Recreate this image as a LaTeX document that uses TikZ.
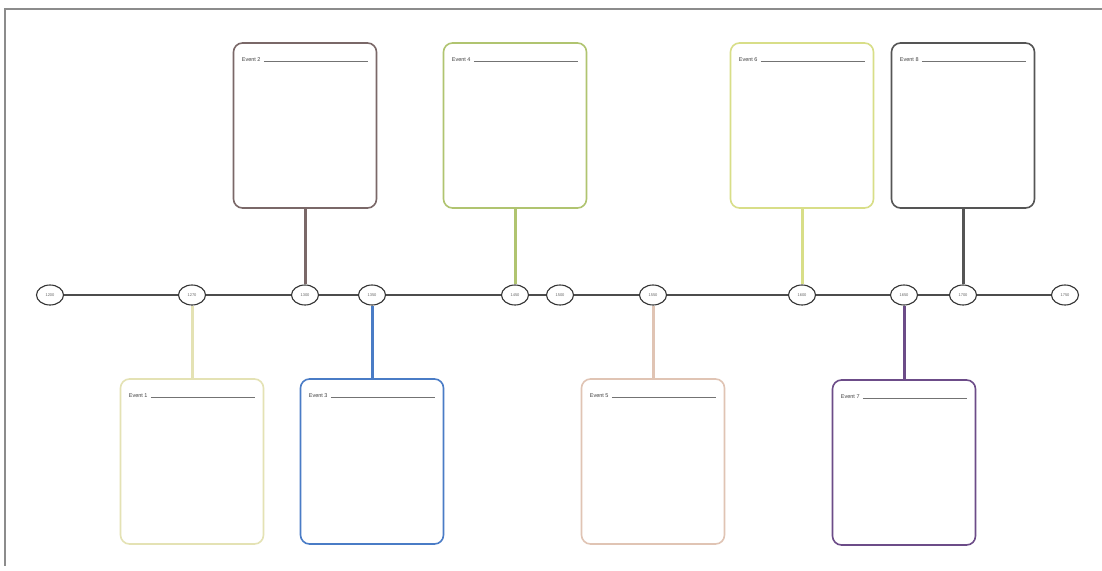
\documentclass[tikz,border=0pt]{standalone}
\usepackage{fontspec}
\setmainfont{Liberation Sans}
\usetikzlibrary{shapes.geometric}
\begin{document}
\begin{tikzpicture}[x=1pt,y=-1pt,
  datenode/.style={draw=black!80,line width=1.1pt,ellipse,minimum width=27pt,minimum height=20pt,inner sep=0pt,fill=white,font=\fontsize{4}{5}\selectfont,text=black!60},
  eventbox/.style={draw=#1,line width=1.6pt,rounded corners=9pt,minimum width=143pt,minimum height=165pt,inner sep=0pt},
  stem/.style={draw=#1,line width=3pt},
  evlabel/.style={font=\fontsize{5.5}{6.5}\selectfont,text=black!75,anchor=west,inner sep=0pt}]
\useasboundingbox (0,0) rectangle (1102,570);
\fill[white] (0,0) rectangle (1102,570);
% frame
\draw[black!45,line width=2.5pt] (4,9) -- (1102,9);
\draw[black!45,line width=2pt] (5,9) -- (5,566);
\definecolor{cA}{HTML}{7A6868}
\definecolor{cB}{HTML}{B0C470}
\definecolor{cC}{HTML}{D8DE88}
\definecolor{cD}{HTML}{555555}
\definecolor{c1}{HTML}{E4E2B4}
\definecolor{c3}{HTML}{4A7CC6}
\definecolor{c5}{HTML}{E0C4B4}
\definecolor{c7}{HTML}{6C4C88}
% dates
\node[datenode] (d0) at (50,295) {1200};
\node[datenode] (d1) at (192,295) {1270};
\node[datenode] (d2) at (305,295) {1300};
\node[datenode] (d3) at (372,295) {1350};
\node[datenode] (d4) at (515,295) {1450};
\node[datenode] (d5) at (560,295) {1500};
\node[datenode] (d6) at (653,295) {1550};
\node[datenode] (d7) at (802,295) {1600};
\node[datenode] (d8) at (904,295) {1650};
\node[datenode] (d9) at (963,295) {1700};
\node[datenode] (d10) at (1065,295) {1750};
% timeline segments
\foreach \a/\b in {d0/d1,d1/d2,d2/d3,d3/d4,d4/d5,d5/d6,d6/d7,d7/d8,d8/d9,d9/d10}
  \draw[black!70,line width=1.2pt] (\a) -- (\b);
% top boxes
\node[eventbox=cA] (eA) at (305,125.5) {};
\node[eventbox=cB] (eB) at (515,125.5) {};
\node[eventbox=cC] (eC) at (802,125.5) {};
\node[eventbox=cD] (eD) at (963,125.5) {};
% bottom boxes
\node[eventbox=c1] (e1) at (192,461.5) {};
\node[eventbox=c3] (e3) at (372,461.5) {};
\node[eventbox=c5] (e5) at (653,461.5) {};
\node[eventbox=c7] (e7) at (904,462.5) {};
% stems
\draw[stem=cA] (eA.south) -- (d2.north);
\draw[stem=cB] (eB.south) -- (d4.north);
\draw[stem=cC] (eC.south) -- (d7.north);
\draw[stem=cD] (eD.south) -- (d9.north);
\draw[stem=c1] (e1.north) -- (d1.south);
\draw[stem=c3] (e3.north) -- (d3.south);
\draw[stem=c5] (e5.north) -- (d6.south);
\draw[stem=c7] (e7.north) -- (d8.south);
% labels
\foreach \n/\t in {eA/Event 2,eB/Event 4,eC/Event 6,eD/Event 8,e1/Event 1,e3/Event 3,e5/Event 5,e7/Event 7}{
  \node[evlabel] (l\n) at ([xshift=9pt,yshift=-17pt]\n.north west) {\t};
  \coordinate (r\n) at ([xshift=-9pt]\n.north east);
  \draw[black!55,line width=0.5pt] ([xshift=3pt]l\n.base east) -- (r\n |- l\n.base east);
}
\end{tikzpicture}
\end{document}
